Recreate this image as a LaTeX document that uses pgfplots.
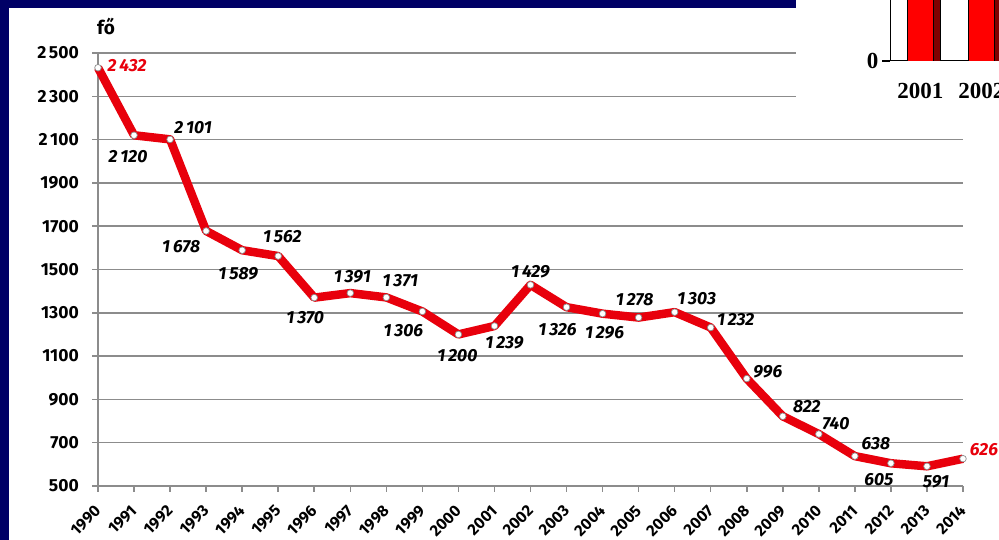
\documentclass[border=0pt]{standalone}
\usepackage{pgfplots}
\pgfplotsset{compat=1.18}
\usepackage{pgfplotstable}
\usepackage{fontspec}
\setmainfont{Fira Sans}
\newfontfamily\tnr{Liberation Serif}
\definecolor{navy}{RGB}{0,0,102}
\definecolor{lred}{RGB}{232,0,12}
\definecolor{gridgray}{RGB}{140,140,140}
\definecolor{dred}{RGB}{128,0,0}

\pgfplotstableread{
year val dx dy lab
1990 2432 29 2 {\color{lred}2\,432}
1991 2120 -6 -21 2\,120
1992 2101 23 12 2\,101
1993 1678 -25 -16 1\,678
1994 1589 -4 -23 1\,589
1995 1562 4 19 1\,562
1996 1370 -9 -20 1\,370
1997 1391 2 16 1\,391
1998 1371 14 17 1\,371
1999 1306 -19 -19 1\,306
2000 1200 -1 -21 1\,200
2001 1239 10 -17 1\,239
2002 1429 0 13 1\,429
2003 1326 -9 -22 1\,326
2004 1296 2 -19 1\,296
2005 1278 -4 18 1\,278
2006 1303 22 14 1\,303
2007 1232 25 8 1\,232
2008 996 21 7 996
2009 822 24 10 822
2010 740 17 10 740
2011 638 21 13 638
2012 605 -12 -16 605
2013 591 9 -15 591
2014 626 21 9 {\color{lred}626}
}\data

\begin{document}
\begin{tikzpicture}
\useasboundingbox (0,0) rectangle (999pt,540pt);
\fill[white] (0,0) rectangle (999pt,540pt);
\fill[navy] (0,0) rectangle (9pt,540pt);
\fill[navy] (0,532pt) rectangle (796pt,540pt);
\begin{axis}[
  at={(98pt,54pt)}, anchor=south west,
  scale only axis, width=865pt, height=433pt,
  xmin=1990, xmax=2014, ymin=500, ymax=2500,
  clip=false,
  axis lines=left,
  axis line style={gridgray, line width=1.5pt, -},
  xtick={1990,1991,...,2014},
  xticklabels={1990,1991,1992,1993,1994,1995,1996,1997,1998,1999,2000,2001,2002,2003,2004,2005,2006,2007,2008,2009,2010,2011,2012,2013,2014},
  ytick={500,700,...,2500},
  yticklabels={500,700,900,1100,1300,1500,1700,1900,2\hspace{2.5pt}100,2\hspace{2.5pt}300,2\hspace{2.5pt}500},
  ymajorgrids,
  major grid style={gridgray, line width=1.5pt},
  tick style={gridgray, line width=1.5pt},
  tick align=outside, major tick length=6pt,
  yticklabel style={font=\bfseries\fontsize{17.5}{18}\selectfont, anchor=east, inner sep=0pt, xshift=-13pt},
  xticklabel style={font=\bfseries\fontsize{16}{16}\selectfont, yshift=-16pt, xshift=0pt, rotate=45, anchor=east, inner sep=0pt},
  point meta=explicit symbolic,
  nodes near coords,
  visualization depends on={\thisrow{dx} \as \dx},
  visualization depends on={\thisrow{dy} \as \dy},
  every node near coord/.append style={anchor=center, inner sep=0pt, text=black, xshift=\dx pt, yshift=\dy pt, font=\fontsize{17.5}{17.5}\selectfont\bfseries\itshape},
]
\addplot[lred, line width=8.5pt, line join=round, mark=*, mark size=3.3pt,
  mark options={fill=white, draw=gridgray, line width=0.7pt}]
  table[x=year, y=val, meta=lab] {\data};
\end{axis}
\node[anchor=base west, font=\bfseries\fontsize{19}{19}\selectfont, inner sep=0pt] at (97pt,505pt) {fő};
\fill[white] (796pt,440pt) rectangle (999pt,540pt);
\begin{axis}[
  at={(890pt,479pt)}, anchor=south west,
  scale only axis, width=109pt, height=61pt,
  xmin=2000.5, xmax=2002.29, ymin=0, ymax=100,
  axis lines=left, axis line style={black, line width=1pt, -},
  xtick={2001,2002}, xticklabels={2001,2002},
  xtick style={draw=none},
  extra x ticks={2000.5,2001.5}, extra x tick labels={},
  extra x tick style={tick style={black, line width=1.2pt}},
  ytick={0}, yticklabels={0},
  ytick style={black, line width=1.2pt},
  tick align=outside, major tick length=8pt,
  ticklabel style={font=\tnr\bfseries\fontsize{23}{23}\selectfont},
  xticklabel style={yshift=-11pt},
]
\addplot[ybar, bar width=26pt, bar shift=0pt, fill=red, draw=black] coordinates {(2001,200) (2002,200)};
\addplot[ybar, bar width=7pt, bar shift=16.5pt, fill=dred, draw=black] coordinates {(2001,200) (2002,200)};
\end{axis}
\end{tikzpicture}
\end{document}
